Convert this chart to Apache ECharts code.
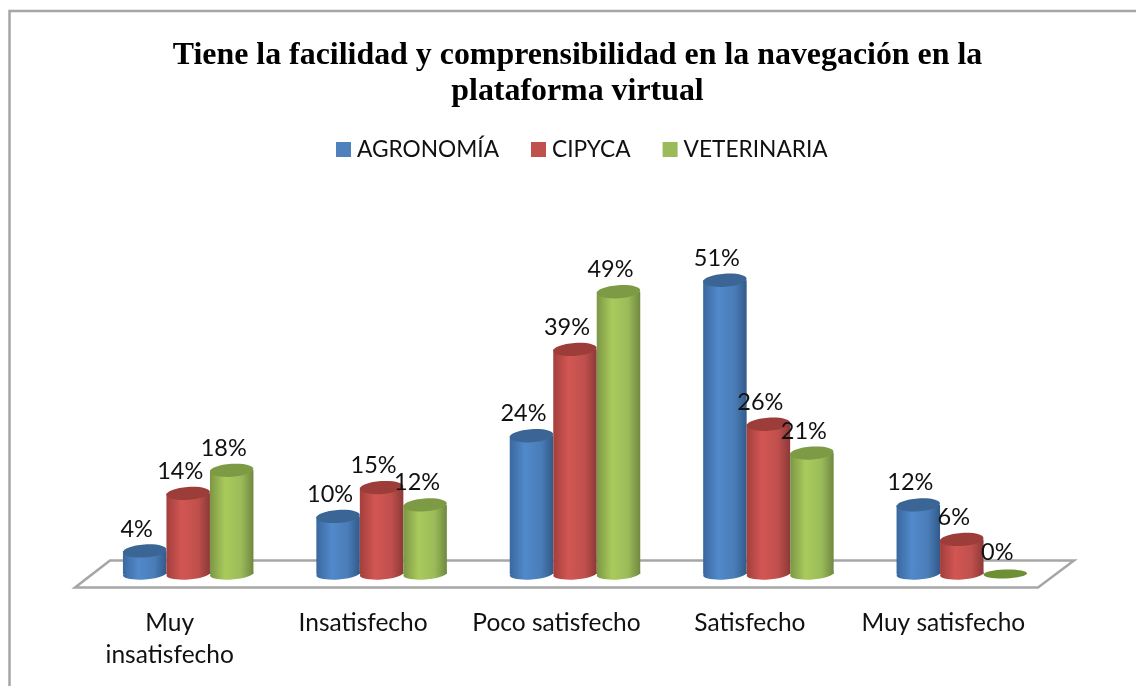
<!DOCTYPE html>
<html>
<head>
<meta charset="utf-8">
<style>html,body{margin:0;padding:0;background:#fff}#c{width:1136px;height:686px}</style>
<script src="https://cdn.jsdelivr.net/npm/echarts@6/dist/echarts.min.js"></script>
</head>
<body>
<div id="c"></div>
<script>
const categories = ['Muy\ninsatisfecho', 'Insatisfecho', 'Poco satisfecho', 'Satisfecho', 'Muy satisfecho'];
const agronomia = [4, 10, 24, 51, 12];
const cipyca = [14, 15, 39, 26, 6];
const veterinaria = [18, 12, 49, 21, 0];
const seriesNames = ['AGRONOMÍA', 'CIPYCA', 'VETERINARIA'];
const titleText = 'Tiene la facilidad y comprensibilidad en la navegación en la\nplataforma virtual';

const palette = [
  {base:'#4f81bd', stops:['#3a689f','#5189ca','#4a7db8','#325a8a'], top:'#3a6594'},
  {base:'#c0504d', stops:['#a23f3c','#d25653','#c0504d','#8c3937'], top:'#9c3d3a'},
  {base:'#9bbb59', stops:['#7c9645','#a9cb5c','#9bbb59','#708840'], top:'#7d9a44'}
];

const BAR_W = 43.5, SHIFT_X = 18.5;
function bodyFill(p){
  return {type:'linear',x:0,y:0,x2:1,y2:0,colorStops:[
    {offset:0,color:p.stops[0]},{offset:0.35,color:p.stops[1]},
    {offset:0.72,color:p.stops[2]},{offset:1,color:p.stops[3]}]};
}
function renderer(si){
  return function(params, api){
    const cat = api.value(0), val = api.value(1);
    const top = api.coord([cat, val]), base = api.coord([cat, 0]);
    const cx = top[0] + SHIFT_X + (si-1)*BAR_W;
    const p = palette[si];
    const rx = BAR_W/2, tilt = 0.07;
    const children = [];
    if (val > 0) {
      children.push({type:'rect', shape:{x:cx-rx, y:top[1], width:BAR_W, height:base[1]-top[1]}, style:{fill:bodyFill(p)}});
      children.push({type:'ellipse', shape:{cx:cx, cy:base[1], rx:rx, ry:5.5}, rotation:tilt, originX:cx, originY:base[1], style:{fill:bodyFill(p)}});
      children.push({type:'ellipse', shape:{cx:cx, cy:top[1], rx:rx, ry:6.5}, rotation:tilt, originX:cx, originY:top[1], style:{fill:p.top}});
    } else {
      children.push({type:'ellipse', shape:{cx:cx, cy:base[1], rx:rx, ry:4.5}, rotation:0.03, originX:cx, originY:base[1], style:{fill:'#6f8f35'}});
    }
    children.push({type:'text', z2:100, style:{text:val+'%', x:cx-8, y:top[1]-22, align:'center', verticalAlign:'middle', fontFamily:'Lato', fontSize:23.5, fill:'#111'}});
    return {type:'group', children:children};
  };
}
const valuesBySeries = [agronomia, cipyca, veterinaria];
const chart = echarts.init(document.getElementById('c'), null, {renderer:'canvas'});
chart.setOption({
  animation:false,
  backgroundColor:'#fff',
  title:{text:titleText, left:572.5, top:32.5, textAlign:'center',
    textStyle:{fontFamily:'Liberation Serif', fontWeight:'bold', fontSize:31.9, lineHeight:36, color:'#000'}},
  legend:{data:seriesNames.map((n,i)=>({name:n, icon:'rect', itemStyle:{color:palette[i].base}})),
    left:331, top:133, itemWidth:15, itemHeight:15, itemGap:32,
    textStyle:{fontFamily:'Lato', fontSize:22.7, color:'#111', padding:[0,0,0,1]}},
  grid:{left:73, right:96, top:228.4, bottom:112},
  xAxis:{type:'category', data:categories, axisLine:{show:false}, axisTick:{show:false},
    axisLabel:{fontFamily:'Lato', fontSize:24.5, color:'#111', margin:33, lineHeight:32, interval:0}},
  yAxis:{type:'value', min:0, max:60, show:false, splitLine:{show:false}},
  graphic:[
    {type:'polyline', z:0, shape:{points:[[1136,11],[9.5,11],[9.5,686]]}, style:{stroke:'#a6a6a6', lineWidth:2.5, fill:null}},
    {type:'polygon', z:0, shape:{points:[[75,587.5],[110,560.5],[1074,560.5],[1038,587.5]]}, style:{fill:'#fff', stroke:'#a6a6a6', lineWidth:2.5}}
  ],
  series:valuesBySeries.map((vals,si)=>({
    name:seriesNames[si], type:'custom', renderItem:renderer(si), clip:false,
    encode:{x:0,y:1}, data:vals.map((v,i)=>[i,v]), itemStyle:{color:palette[si].base}
  }))
});
</script>
</body>
</html>
